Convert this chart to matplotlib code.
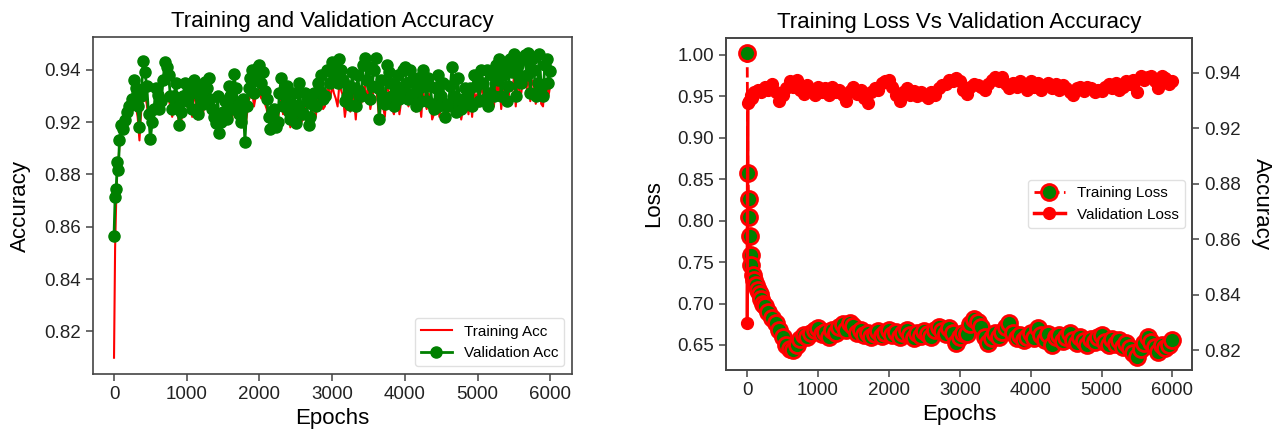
import matplotlib.pyplot as plt
import numpy as np

plt.rcParams['font.family'] = ['Liberation Sans', 'DejaVu Sans']

# ---- left panel: training / validation accuracy ----
acc_epochs_a = np.concatenate([[0, 15, 30, 45, 60, 75, 100, 125, 150, 175, 200],
                               np.arange(250, 6001, 50)])
acc_epochs_b = np.arange(275, 6000, 50)

train_acc_a = [0.8299, 0.8720, 0.8900, 0.9010, 0.9050, 0.9110, 0.9160, 0.9180, 0.9190, 0.9210, 0.9230,
	0.9240, 0.9260, 0.9130, 0.9290, 0.9270, 0.9200, 0.9240, 0.9280, 0.9250, 0.9300, 0.9290, 0.9220, 0.9280, 0.9190, 0.9270,
	0.9260, 0.9290, 0.9300, 0.9210, 0.9270, 0.9300, 0.9310, 0.9230, 0.9190, 0.9180, 0.9220, 0.9200, 0.9260, 0.9310, 0.9240, 0.9190, 0.9170, 0.9280, 0.9320, 0.9300,
	0.9330, 0.9310, 0.9250, 0.9200, 0.9230, 0.9190, 0.9300, 0.9260, 0.9220, 0.9240, 0.9200, 0.9290, 0.9210, 0.9250, 0.9210, 0.9270, 0.9300, 0.9310, 0.9260, 0.9330,
	0.9340, 0.9290, 0.9350, 0.9300, 0.9270, 0.9240, 0.9290, 0.9310, 0.9270, 0.9340, 0.9330, 0.9290, 0.9350, 0.9200, 0.9260, 0.9330, 0.9300, 0.9230, 0.9310, 0.9280,
	0.9330, 0.9260, 0.9300, 0.9240, 0.9290, 0.9320, 0.9250, 0.9300, 0.9230, 0.9310, 0.9270, 0.9220, 0.9240, 0.9320, 0.9230, 0.9260, 0.9250, 0.9280, 0.9300, 0.9320,
	0.9310, 0.9340, 0.9280, 0.9270, 0.9330, 0.9350, 0.9360, 0.9320, 0.9270, 0.9350, 0.9370, 0.9350, 0.9310, 0.9370, 0.9380, 0.9360, 0.9270, 0.9370, 0.9260, 0.9360, 0.9340]

train_acc_b = [0.9280, 0.9220, 0.9250, 0.9300, 0.9210, 0.9190, 0.9270, 0.9230, 0.9290, 0.9310, 0.9260, 0.9250, 0.9230, 0.9200, 0.9290,
	0.9270, 0.9220, 0.9280, 0.9290, 0.9230, 0.9280, 0.9250, 0.9180, 0.9240, 0.9180, 0.9250, 0.9290, 0.9210, 0.9270, 0.9200, 0.9250, 0.9220, 0.9300, 0.9260, 0.9310,
	0.9290, 0.9270, 0.9200, 0.9210, 0.9170, 0.9260, 0.9230, 0.9280, 0.9180, 0.9260, 0.9220, 0.9200, 0.9260, 0.9170, 0.9240, 0.9220, 0.9270, 0.9250, 0.9320, 0.9290,
	0.9310, 0.9260, 0.9320, 0.9220, 0.9280, 0.9320, 0.9210, 0.9280, 0.9330, 0.9300, 0.9250, 0.9330, 0.9280, 0.9300, 0.9220, 0.9320, 0.9250, 0.9290, 0.9230, 0.9320,
	0.9290, 0.9320, 0.9260, 0.9300, 0.9220, 0.9280, 0.9310, 0.9210, 0.9270, 0.9220, 0.9290, 0.9200, 0.9280, 0.9250, 0.9300, 0.9210, 0.9270, 0.9230, 0.9220, 0.9290,
	0.9260, 0.9310, 0.9330, 0.9270, 0.9260, 0.9310, 0.9250, 0.9340, 0.9290, 0.9320, 0.9260, 0.9320, 0.9360, 0.9330, 0.9280, 0.9340, 0.9300, 0.9270, 0.9350, 0.9300]

val_acc_a = [0.8766, 0.8912, 0.8945, 0.9046, 0.9018, 0.9132, 0.9190, 0.9172, 0.9209, 0.9240, 0.9262,
	0.9290, 0.9330, 0.9180, 0.9435, 0.9340, 0.9135, 0.9250, 0.9305, 0.9280, 0.9430, 0.9380, 0.9250, 0.9350, 0.9190, 0.9300,
	0.9280, 0.9340, 0.9360, 0.9230, 0.9300, 0.9355, 0.9370, 0.9250, 0.9195, 0.9160, 0.9240, 0.9210, 0.9300, 0.9385, 0.9270, 0.9200, 0.9125, 0.9330, 0.9400, 0.9360,
	0.9420, 0.9390, 0.9290, 0.9175, 0.9250, 0.9200, 0.9370, 0.9300, 0.9240, 0.9270, 0.9195, 0.9350, 0.9230, 0.9280, 0.9220, 0.9310, 0.9350, 0.9380, 0.9300, 0.9400,
	0.9430, 0.9410, 0.9440, 0.9360, 0.9300, 0.9265, 0.9330, 0.9380, 0.9300, 0.9445, 0.9410, 0.9340, 0.9445, 0.9210, 0.9300, 0.9420, 0.9350, 0.9260, 0.9380, 0.9320,
	0.9410, 0.9290, 0.9360, 0.9260, 0.9330, 0.9400, 0.9280, 0.9340, 0.9250, 0.9380, 0.9300, 0.9220, 0.9270, 0.9410, 0.9240, 0.9290, 0.9260, 0.9300, 0.9330, 0.9380,
	0.9350, 0.9400, 0.9290, 0.9260, 0.9380, 0.9420, 0.9440, 0.9380, 0.9280, 0.9440, 0.9460, 0.9420, 0.9350, 0.9455, 0.9465, 0.9440, 0.9300, 0.9460, 0.9300, 0.9440, 0.9395]

val_acc_b = [0.9360, 0.9260, 0.9300, 0.9390, 0.9230, 0.9200, 0.9330, 0.9250, 0.9360, 0.9410, 0.9300, 0.9300, 0.9260, 0.9240, 0.9350,
	0.9310, 0.9250, 0.9310, 0.9340, 0.9270, 0.9330, 0.9290, 0.9220, 0.9300, 0.9200, 0.9280, 0.9340, 0.9250, 0.9330, 0.9230, 0.9290, 0.9260, 0.9370, 0.9310, 0.9410,
	0.9350, 0.9320, 0.9220, 0.9240, 0.9180, 0.9310, 0.9260, 0.9340, 0.9210, 0.9310, 0.9260, 0.9240, 0.9310, 0.9190, 0.9270, 0.9260, 0.9320, 0.9290, 0.9400, 0.9350,
	0.9380, 0.9350, 0.9400, 0.9280, 0.9340, 0.9390, 0.9260, 0.9320, 0.9420, 0.9360, 0.9290, 0.9400, 0.9330, 0.9360, 0.9270, 0.9390, 0.9300, 0.9340, 0.9290, 0.9400,
	0.9350, 0.9400, 0.9310, 0.9370, 0.9280, 0.9340, 0.9370, 0.9270, 0.9330, 0.9260, 0.9350, 0.9260, 0.9340, 0.9300, 0.9370, 0.9250, 0.9330, 0.9280, 0.9260, 0.9340,
	0.9280, 0.9350, 0.9400, 0.9310, 0.9300, 0.9360, 0.9300, 0.9410, 0.9340, 0.9390, 0.9300, 0.9380, 0.9440, 0.9380, 0.9310, 0.9400, 0.9350, 0.9330, 0.9420, 0.9350]

acc_ticks = [0.84, 0.86, 0.88, 0.90, 0.92, 0.94]
acc_ticklabels = ['0.82', '0.84', '0.86', '0.88', '0.92', '0.94']

# ---- right panel: training loss vs validation accuracy ----
loss_epochs = np.concatenate([[0, 10, 20, 30, 40, 50, 60, 80, 100, 125, 150, 175, 200, 225],
                              np.arange(250, 6001, 50)])

train_loss = [1.003, 0.858, 0.826, 0.804, 0.781, 0.758, 0.746, 0.735, 0.728, 0.722, 0.716, 0.712, 0.705, 0.700,
	0.697, 0.690, 0.683, 0.676, 0.668, 0.660, 0.650, 0.645, 0.644, 0.650, 0.657, 0.662, 0.660, 0.664, 0.668,
	0.670, 0.663, 0.666, 0.660, 0.668, 0.664, 0.672, 0.675, 0.668, 0.676, 0.673, 0.665, 0.668, 0.662, 0.665, 0.660, 0.663, 0.667, 0.661, 0.664,
	0.668, 0.662, 0.666, 0.660, 0.664, 0.668, 0.662, 0.658, 0.665, 0.661, 0.667, 0.663, 0.660, 0.668, 0.672, 0.667, 0.663, 0.670, 0.665, 0.652,
	0.660, 0.665, 0.663, 0.675, 0.681, 0.678, 0.672, 0.660, 0.652, 0.658, 0.664, 0.660, 0.666, 0.672, 0.676, 0.665, 0.658, 0.662, 0.656, 0.660,
	0.664, 0.658, 0.670, 0.662, 0.656, 0.663, 0.650, 0.659, 0.662, 0.655, 0.660, 0.664, 0.656, 0.652, 0.660, 0.655, 0.650, 0.657, 0.653, 0.660,
	0.662, 0.654, 0.650, 0.657, 0.651, 0.656, 0.648, 0.652, 0.646, 0.640, 0.636, 0.645, 0.652, 0.660, 0.654, 0.648, 0.642, 0.650, 0.646, 0.650, 0.656]

val_epochs = np.concatenate([[0, 10, 25, 50, 75, 100, 150, 200], np.arange(250, 6001, 50)])

val_acc2 = [0.8496, 0.9290, 0.9300, 0.9320, 0.9310, 0.9330, 0.9340, 0.9330,
	0.9350, 0.9340, 0.9360, 0.9330, 0.9300, 0.9320, 0.9345, 0.9370, 0.9350, 0.9375, 0.9340, 0.9325, 0.9355, 0.9340, 0.9320,
	0.9350, 0.9330, 0.9345, 0.9320, 0.9350, 0.9330, 0.9340, 0.9320, 0.9300, 0.9335, 0.9350, 0.9325, 0.9340, 0.9310, 0.9290, 0.9330, 0.9345, 0.9340, 0.9365, 0.9370,
	0.9375, 0.9350, 0.9320, 0.9300, 0.9330, 0.9345, 0.9320, 0.9335, 0.9315, 0.9330, 0.9320, 0.9310, 0.9330, 0.9320, 0.9345, 0.9355, 0.9360, 0.9375, 0.9370, 0.9380,
	0.9370, 0.9340, 0.9325, 0.9350, 0.9360, 0.9355, 0.9350, 0.9340, 0.9360, 0.9375, 0.9385, 0.9370, 0.9385, 0.9360, 0.9345, 0.9365, 0.9350, 0.9370, 0.9360, 0.9340,
	0.9370, 0.9350, 0.9365, 0.9340, 0.9355, 0.9365, 0.9345, 0.9360, 0.9340, 0.9355, 0.9345, 0.9330, 0.9320, 0.9345, 0.9350, 0.9335, 0.9350, 0.9345, 0.9330, 0.9340,
	0.9335, 0.9350, 0.9360, 0.9345, 0.9365, 0.9340, 0.9350, 0.9370, 0.9360, 0.9375, 0.9330, 0.9390, 0.9375, 0.9385, 0.9390, 0.9370, 0.9345, 0.9390, 0.9380, 0.9360, 0.9370]

loss_ticks = [0.65, 0.70, 0.75, 0.80, 0.85, 0.90, 0.95, 1.00]

spine_col = '#444444'


def style(ax):
	for s in ax.spines.values():
		s.set_color(spine_col)
		s.set_linewidth(1.2)
	ax.tick_params(colors=spine_col, labelcolor='#222222', labelsize=13.5, width=1.1, length=5)


# merge the two sets of logged epochs into one sorted run
acc_epochs = np.concatenate([acc_epochs_a, acc_epochs_b])
order = np.argsort(acc_epochs, kind='stable')
acc_epochs = acc_epochs[order]
train_acc = np.concatenate([train_acc_a, train_acc_b])[order]
val_acc = np.concatenate([val_acc_a, val_acc_b])[order]

fig = plt.figure(figsize=(12.74, 4.42), dpi=100)

ax = fig.add_axes([0.073, 0.154, 0.376, 0.762])
ax.plot(acc_epochs, train_acc, color='red', lw=1.5, label='Training Acc')
ax.plot(acc_epochs, val_acc, color='green', lw=2, marker='o', markersize=8, label='Validation Acc')
ax.set_xlim(-289, 6299)
ax.set_ylim(0.8237, 0.9525)
ax.set_yticks(acc_ticks)
ax.set_yticklabels(acc_ticklabels)
ax.set_xticks(range(0, 6001, 1000))
ax.set_title('Training and Validation Accuracy', fontsize=16, pad=7)
ax.set_xlabel('Epochs', fontsize=16)
ax.set_ylabel('Accuracy', fontsize=16, labelpad=10)
style(ax)
ax.legend(loc='lower right', fontsize=11, edgecolor='0.85')

ax1 = fig.add_axes([0.570, 0.163, 0.366, 0.751])
l1, = ax1.plot(loss_epochs, train_loss, color='red', ls='--', lw=2, marker='o', markersize=11.5,
	markerfacecolor='green', markeredgecolor='red', markeredgewidth=2, label='Training Loss')
ax1.set_xlim(-296, 6282)
ax1.set_ylim(0.6198, 1.0205)
ax1.set_yticks(loss_ticks)
ax1.set_xticks(range(0, 6001, 1000))
ax1.set_xlabel('Epochs', fontsize=16)
ax1.set_ylabel('Loss', fontsize=16, labelpad=10)
ax1.set_title('Training Loss Vs Validation Accuracy', fontsize=16, pad=7)

ax2 = ax1.twinx()
l2, = ax2.plot(val_epochs, val_acc2, color='red', lw=2.5, marker='o', markersize=8.5, label='Validation Loss')
ax2.set_ylim(0.8328, 0.9526)
ax2.set_yticks(acc_ticks)
ax2.set_yticklabels(acc_ticklabels)
ax2.set_ylabel('Accuracy', fontsize=16, rotation=270, labelpad=22)
style(ax1)
style(ax2)
ax2.legend([l1, l2], ['Training Loss', 'Validation Loss'], loc='center right', fontsize=11, edgecolor='0.85')

fig.savefig('out.png', dpi=100)
